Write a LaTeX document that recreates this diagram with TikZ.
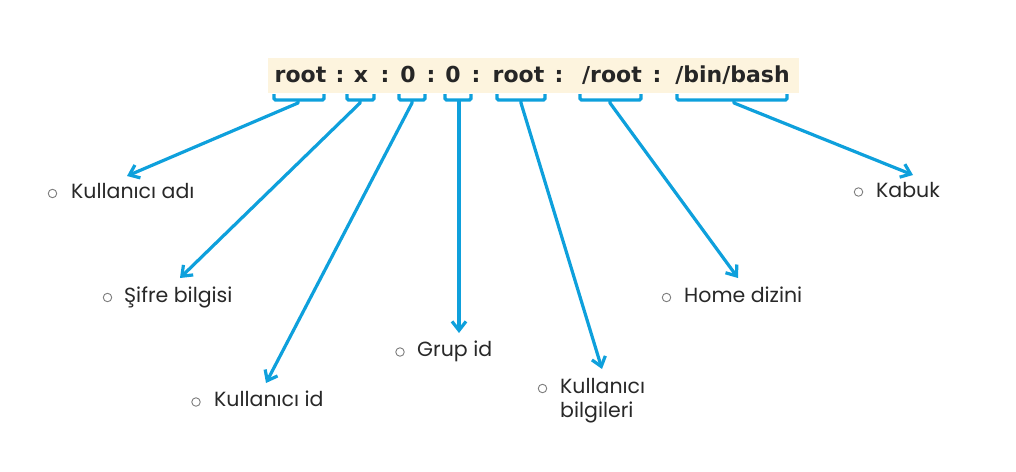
\documentclass[tikz,border=0pt]{standalone}
\usepackage{fontspec}
\setmainfont{Poppins}
\newfontfamily\codefont{DejaVu Sans}
\usetikzlibrary{arrows.meta}
\definecolor{arrowblue}{RGB}{14,160,220}
\definecolor{bannerbg}{RGB}{253,244,222}
\definecolor{codetext}{RGB}{38,38,38}
\definecolor{labeltext}{RGB}{40,40,40}
\definecolor{bulletgray}{RGB}{125,125,125}
\begin{document}
\begin{tikzpicture}[x=1pt,y=-1pt,
  bracketline/.style={draw=arrowblue,line width=3.2pt,rounded corners=1.5pt},
  pointer/.style={draw=arrowblue,line width=3.2pt,line join=round,
    -{Straight Barb[length=9pt,width=14pt]}},
  codetok/.style={anchor=base,inner sep=0pt,
    font=\codefont\bfseries\fontsize{22}{22}\selectfont,text=codetext},
  labeltxt/.style={anchor=base west,inner sep=0pt,
    font=\fontsize{20.5}{24}\selectfont,text=labeltext},
  bulletdot/.style={circle,draw=bulletgray,line width=0.9pt,
    minimum size=8.5pt,inner sep=0pt}
]
\useasboundingbox (0,0) rectangle (1016,471);
% banner
\fill[bannerbg] (268,58) rectangle (799,93);
\foreach \n/\x/\t in {1/300.5/root, 2/340/:, 3/361/x, 4/385/:, 5/408/0,
  6/431/:, 7/453/0, 8/476/:, 9/518.5/root, 10/559/:, 11/612/{/root},
  12/657/:, 13/732.5/{/bin/bash}}{
  \node[codetok] (tk\n) at (\x,82) {\t};
}
% brackets
\foreach \i/\l/\r/\s in {1/274/324/298, 2/347/374/360, 3/399/425/412,
  4/445/471/459, 5/497/545/521, 6/580/641/610, 7/677/787/734}{
  \draw[bracketline] (\l,94) -- (\l,100) -- (\r,100) -- (\r,94);
  \coordinate (s\i) at (\s,100);
}
% labels
\node[bulletdot] (b1) at (52.5,193.5) {};
\node[labeltxt] (l1) at (71,198) {Kullanıcı adı};
\node[bulletdot] (b2) at (107.5,297.5) {};
\node[labeltxt] (l2) at (124,302) {Şifre bilgisi};
\node[bulletdot] (b3) at (196,402) {};
\node[labeltxt] (l3) at (214,406) {Kullanıcı id};
\node[bulletdot] (b4) at (400,352) {};
\node[labeltxt] (l4) at (417,356) {Grup id};
\node[bulletdot] (b5) at (542.5,388.5) {};
\node[labeltxt] (l5) at (560,393) {\begin{tabular}[t]{@{}l@{}}Kullanıcı\\bilgileri\end{tabular}};
\node[bulletdot] (b6) at (666.5,297.5) {};
\node[labeltxt] (l6) at (684,302) {Home dizini};
\node[bulletdot] (b7) at (858.5,192) {};
\node[labeltxt] (l7) at (876,197) {Kabuk};
% arrow tips
\coordinate (t1) at (127,176);
\coordinate (t2) at (180,278);
\coordinate (t3) at (266,383);
\coordinate (t4) at (459,333);
\coordinate (t5) at (602,369);
\coordinate (t6) at (738,278);
\coordinate (t7) at (913,175);
\foreach \i in {1,...,7}{
  \draw[pointer] (s\i) -- ++(0,3) -- (t\i);
}
\end{tikzpicture}
\end{document}
